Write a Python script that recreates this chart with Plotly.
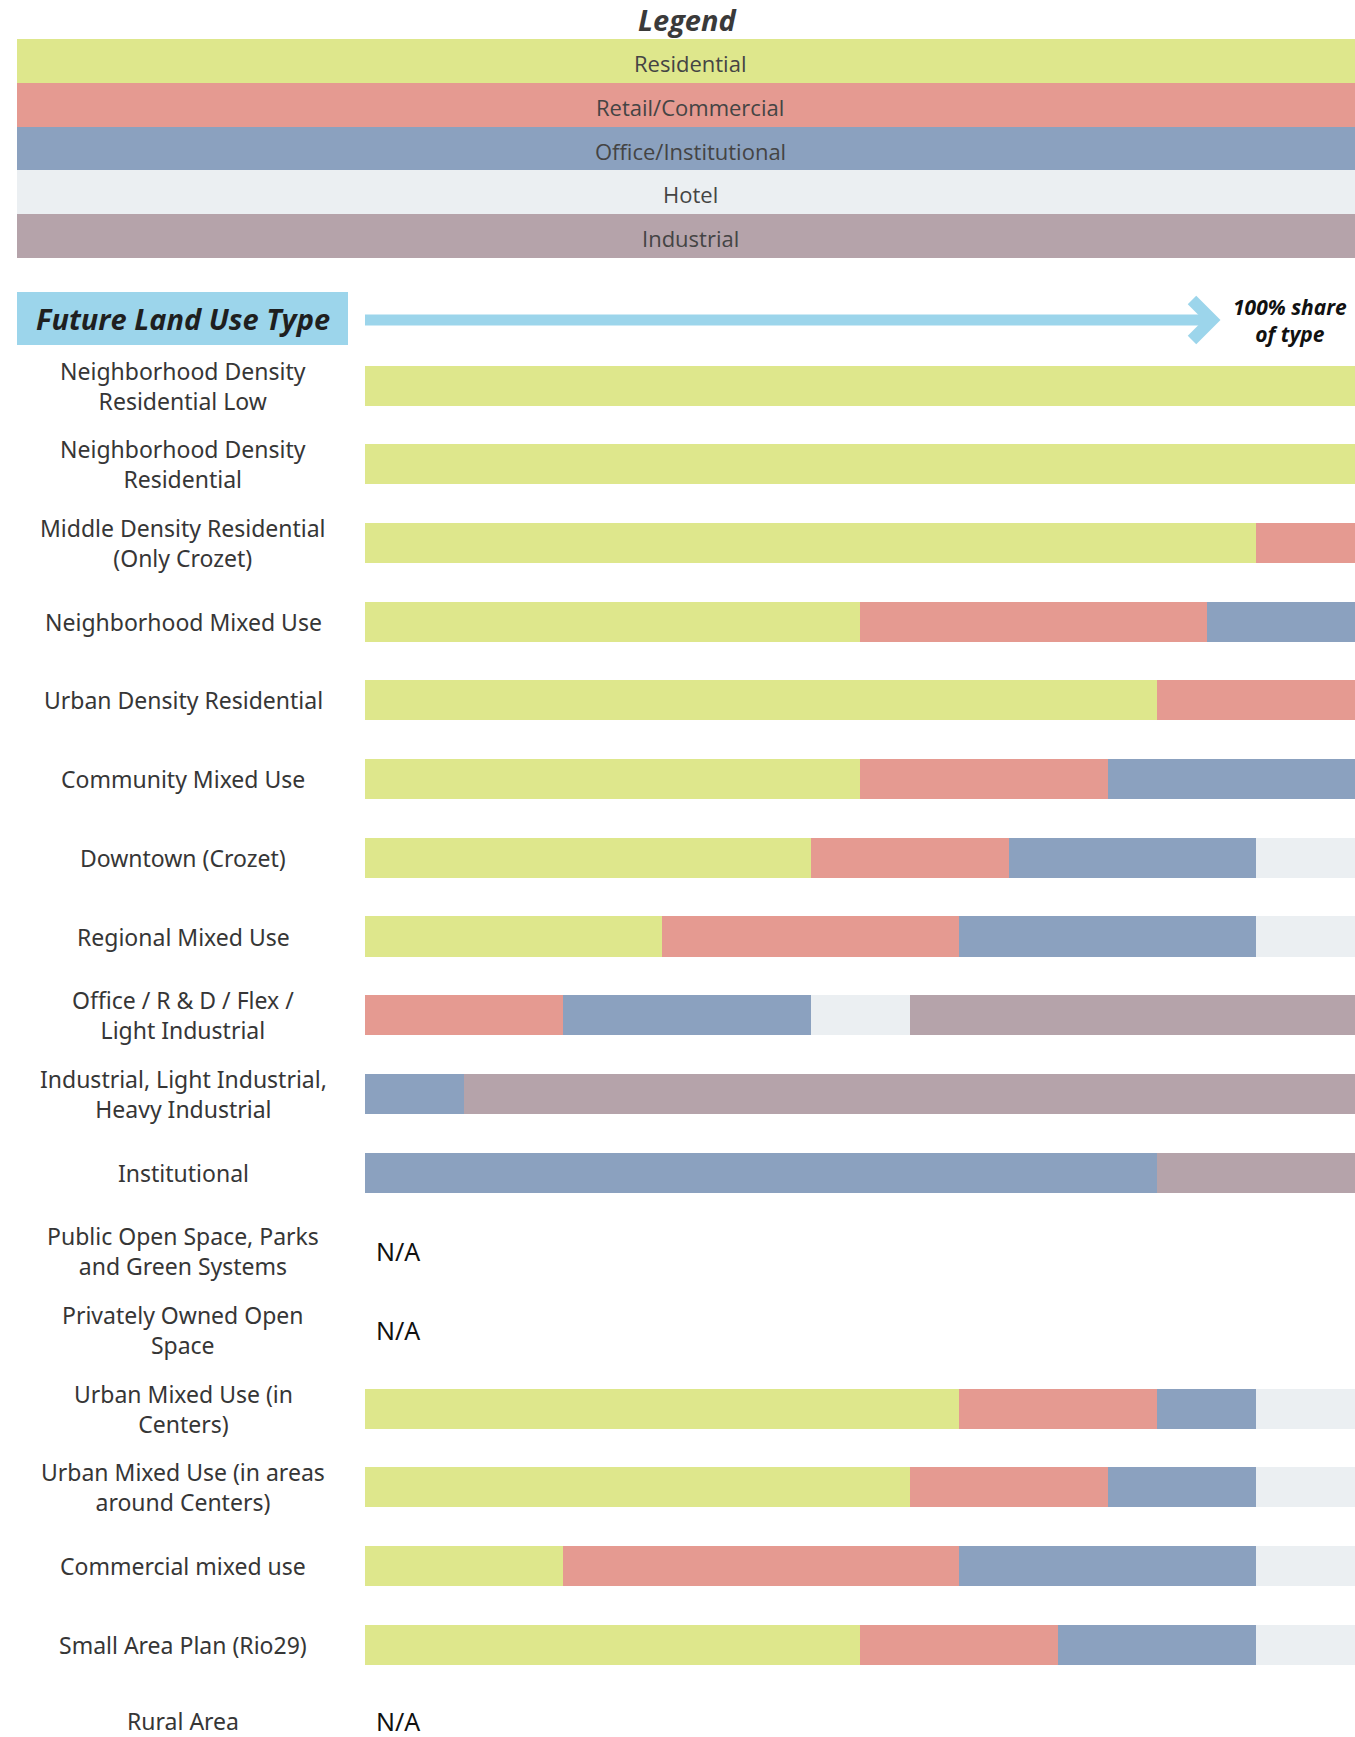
import plotly.graph_objects as go

# ---------------- data ----------------
legend_labels = ["Residential", "Retail/Commercial", "Office/Institutional", "Hotel", "Industrial"]
legend_colors = ["#DEE78C", "#E59A91", "#8BA1BF", "#EBEFF2", "#B5A3AA"]
legend_values = [100, 100, 100, 100, 100]

land_use_types = [
    "Neighborhood Density<br>Residential Low",
    "Neighborhood Density<br>Residential",
    "Middle Density Residential<br>(Only Crozet)",
    "Neighborhood Mixed Use",
    "Urban Density Residential",
    "Community Mixed Use",
    "Downtown (Crozet)",
    "Regional Mixed Use",
    "Office / R & D / Flex /<br>Light Industrial",
    "Industrial, Light Industrial,<br>Heavy Industrial",
    "Institutional",
    "Public Open Space, Parks<br>and Green Systems",
    "Privately Owned Open<br>Space",
    "Urban Mixed Use (in<br>Centers)",
    "Urban Mixed Use (in areas<br>around Centers)",
    "Commercial mixed use",
    "Small Area Plan (Rio29)",
    "Rural Area",
]
residential = [100, 100, 90, 50, 80, 50, 45, 30, 0, 0, 0, 0, 0, 60, 55, 20, 50, 0]
retail      = [0, 0, 10, 35, 20, 25, 20, 30, 20, 0, 0, 0, 0, 20, 20, 40, 20, 0]
office      = [0, 0, 0, 15, 0, 25, 25, 30, 25, 10, 80, 0, 0, 10, 15, 30, 20, 0]
hotel       = [0, 0, 0, 0, 0, 0, 10, 10, 10, 0, 0, 0, 0, 10, 10, 10, 10, 0]
industrial  = [0, 0, 0, 0, 0, 0, 0, 0, 45, 90, 20, 0, 0, 0, 0, 0, 0, 0]
not_applicable = [False] * 11 + [True, True] + [False] * 4 + [True]

series = [residential, retail, office, hotel, industrial]

# ---------------- layout constants ----------------
W, H = 1355, 1737
LABEL_FONT = "Noto Sans"
TITLE_FONT = "Open Sans"
TEXT_COLOR = "#363636"
HEADER_BLUE = "#9CD5EB"
LABEL_SIZE = 23

def px(x):
    return x / W

def py(y):
    return 1 - y / H

row_px = 78.7
first_center = 385.6
top_px = first_center - row_px / 2
n_visible = (H - top_px) / row_px

fig = go.Figure()

# main stacked bars
for name, vals, col in zip(legend_labels, series, legend_colors):
    fig.add_trace(go.Bar(
        x=vals, y=land_use_types, orientation="h", name=name,
        marker=dict(color=col, line=dict(width=0)),
        width=0.51, xaxis="x", yaxis="y", hoverinfo="x+y+name",
    ))

# legend as a bar chart on its own axes
fig.add_trace(go.Bar(
    x=legend_values, y=legend_labels, orientation="h",
    marker=dict(color=legend_colors, line=dict(width=0)),
    width=1.0, xaxis="x2", yaxis="y2", hoverinfo="y",
))

annotations = []
# legend labels
for lab in legend_labels:
    annotations.append(dict(
        x=px(690), xref="paper", y=lab, yref="y2", text=lab, showarrow=False,
        xanchor="center", yanchor="middle", yshift=-2,
        font=dict(family=TITLE_FONT, size=22, color="#444444"),
    ))
# category labels (centered) and N/A markers
for i, (lab, na) in enumerate(zip(land_use_types, not_applicable)):
    n_lines = lab.count("<br>") + 1
    centre = first_center + i * row_px
    half = n_lines * LABEL_SIZE * 1.3 / 2
    lift = max(0.0, centre + half - (H - 1))   # keep text inside the page
    annotations.append(dict(
        x=px(183), xref="paper", y=lab, yref="y", text=lab, showarrow=False,
        xanchor="center", yanchor="middle", align="center", yshift=lift,
        font=dict(family=LABEL_FONT, size=LABEL_SIZE, color=TEXT_COLOR),
    ))
    if na:
        annotations.append(dict(
            x=0, xref="x", y=lab, yref="y", text="N/A", showarrow=False,
            xanchor="left", yanchor="middle", xshift=9, yshift=lift,
            font=dict(family=LABEL_FONT, size=25, color="#111111"),
        ))

annotations += [
    dict(x=px(688), y=py(20), xref="paper", yref="paper", text="<b><i>Legend</i></b>",
         showarrow=False, xanchor="center", yanchor="middle",
         font=dict(family=TITLE_FONT, size=29, color="#3a3a3a")),
    dict(x=px((17 + 348) / 2), y=py(319), xref="paper", yref="paper",
         text="<b><i>Future Land Use Type</i></b>", showarrow=False,
         xanchor="center", yanchor="middle",
         font=dict(family=TITLE_FONT, size=29, color="#1f1f1f")),
    dict(x=px(1290), y=py(320), xref="paper", yref="paper",
         text="<b><i>100% share<br>of type</i></b>", showarrow=False,
         xanchor="center", yanchor="middle", align="center",
         font=dict(family=TITLE_FONT, size=21, color="#111111")),
]

shapes = [
    dict(type="rect", xref="paper", yref="paper", x0=px(17), x1=px(348),
         y0=py(345), y1=py(292), fillcolor=HEADER_BLUE, line=dict(width=0), layer="below"),
    dict(type="line", xref="paper", yref="paper", x0=px(365), x1=px(1210),
         y0=py(320), y1=py(320), line=dict(color=HEADER_BLUE, width=11)),
    dict(type="path", xref="paper", yref="paper",
         path=f"M {px(1192)} {py(300)} L {px(1212)} {py(320)} L {px(1192)} {py(340)}",
         line=dict(color=HEADER_BLUE, width=12)),
]

fig.update_layout(
    width=W, height=H,
    margin=dict(l=0, r=0, t=0, b=0),
    barmode="stack", showlegend=False,
    paper_bgcolor="white", plot_bgcolor="white",
    font=dict(family=LABEL_FONT),
    xaxis=dict(domain=[px(365), 1], range=[0, 100], visible=False, fixedrange=True),
    yaxis=dict(domain=[0, py(top_px)], type="category", categoryorder="array",
               categoryarray=land_use_types, range=[-0.5 + n_visible, -0.5],
               visible=False, fixedrange=True),
    xaxis2=dict(domain=[px(17), 1], range=[0, 100], visible=False, anchor="y2",
                fixedrange=True),
    yaxis2=dict(domain=[py(258), py(39)], type="category", categoryorder="array",
                categoryarray=legend_labels, range=[4.5, -0.5], visible=False,
                anchor="x2", fixedrange=True),
    annotations=annotations, shapes=shapes,
)

fig.write_html("out.html", config={"displayModeBar": False},
               post_script="document.body.style.margin='0';")
